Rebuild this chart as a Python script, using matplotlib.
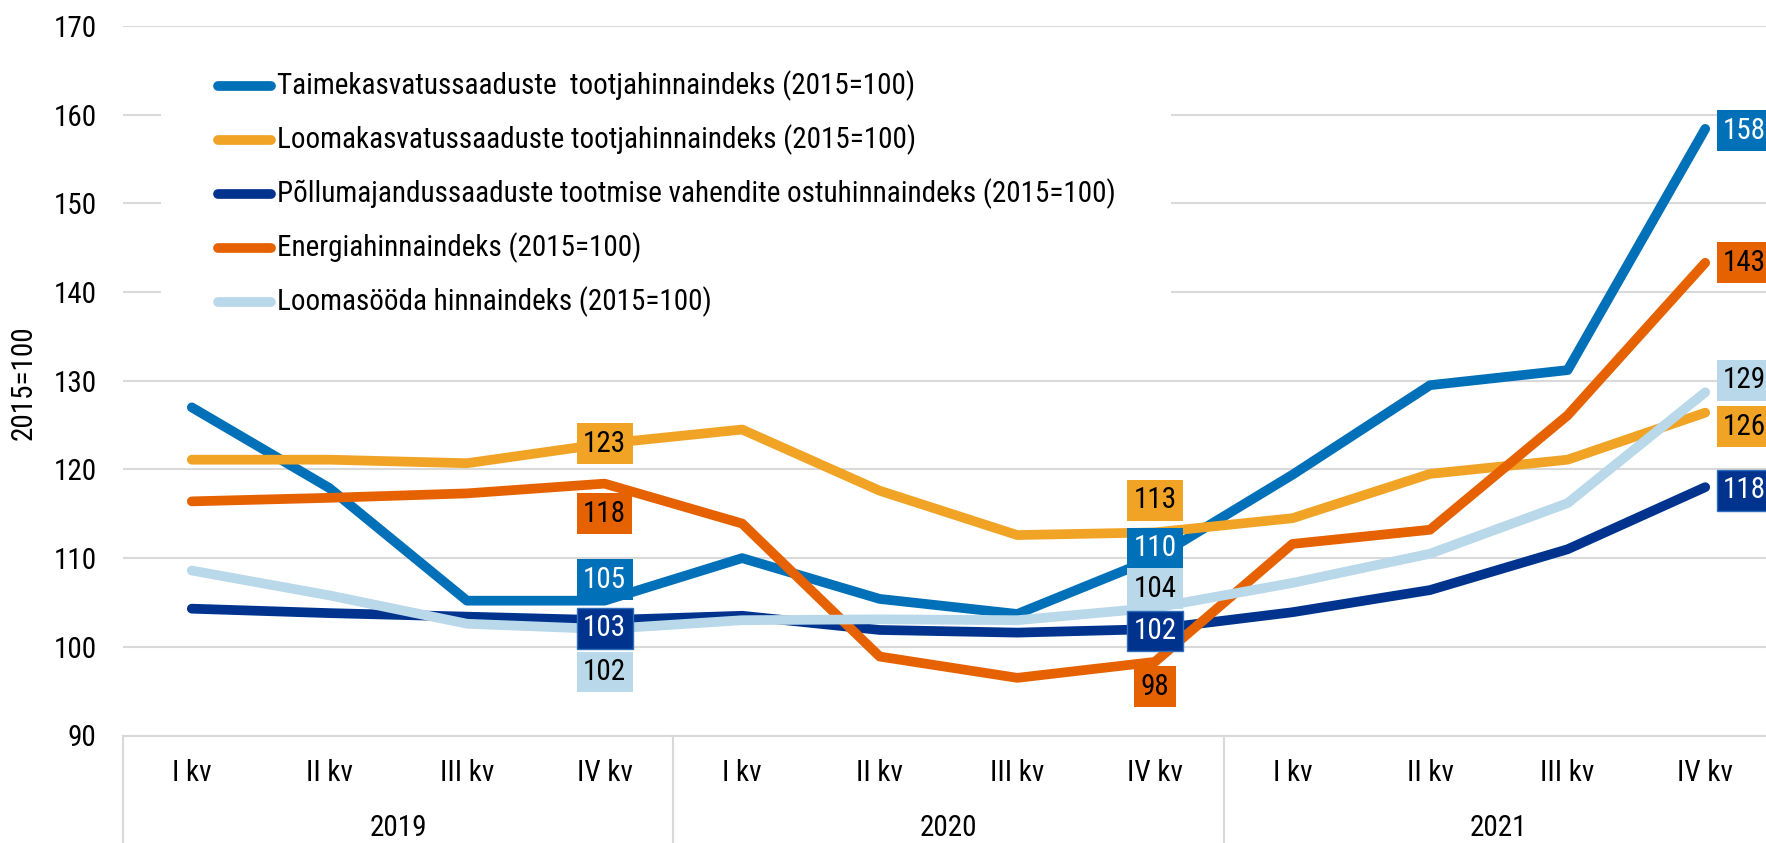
import matplotlib
matplotlib.use("Agg")
import matplotlib.pyplot as plt
from matplotlib.patches import Rectangle

plt.rcParams['font.family'] = ['Roboto Condensed', 'Liberation Sans Narrow', 'Roboto', 'DejaVu Sans']
plt.rcParams['font.size'] = 21

# ---------------------------------------
# Data
# ---------------------------------------
quarters = ["I kv", "II kv", "III kv", "IV kv"] * 3
years = ["2019", "2020", "2021"]

taime = [127.0, 117.9, 105.2, 105.2, 110.0, 105.4, 103.7, 110.0, 119.4, 129.5, 131.2, 158.4]
looma = [121.1, 121.1, 120.7, 122.9, 124.5, 117.6, 112.6, 112.9, 114.5, 119.5, 121.1, 126.4]
pollu = [104.3, 103.8, 103.4, 103.0, 103.5, 101.9, 101.6, 102.0, 103.9, 106.4, 111.0, 118.0]
energia = [116.4, 116.8, 117.3, 118.4, 113.9, 98.9, 96.5, 98.3, 111.6, 113.2, 126.1, 143.3]
sooda = [108.6, 105.8, 102.6, 102.0, 103.0, 103.1, 103.0, 104.4, 107.2, 110.5, 116.2, 128.7]

names = [
    "Taimekasvatussaaduste  tootjahinnaindeks (2015=100)",
    "Loomakasvatussaaduste tootjahinnaindeks (2015=100)",
    "Põllumajandussaaduste tootmise vahendite ostuhinnaindeks (2015=100)",
    "Energiahinnaindeks (2015=100)",
    "Loomasööda hinnaindeks (2015=100)",
]
values = [taime, looma, pollu, energia, sooda]
colors = ["#0070B8", "#F0A324", "#00338D", "#E66100", "#B9D8EA"]
text_colors = ["white", "black", "white", "black", "black"]

# value boxes: point index -> (dx, dy) pixel offsets, per series
label_offsets = [
    {3: (0, 21), 7: (0, 10), 11: (18, -2)},
    {3: (0, 0), 7: (0, 32), 11: (18, -14)},
    {3: (0, -8), 7: (0, -2), 11: (18, -3)},
    {3: (0, -30), 7: (0, -25), 11: (18, 0)},
    {3: (0, -43), 7: (0, 19), 11: (18, 12)},
]

W_PX, H_PX = 1766, 843


def fx(px):
    return px / W_PX


def fy(py):
    return 1 - py / H_PX


# ---------------------------------------
# Figure setup
# ---------------------------------------
fig = plt.figure(figsize=(W_PX / 100, H_PX / 100), dpi=100)
ax = fig.add_axes([fx(123), fy(735.5), fx(1651), (735.5 - 26) / H_PX])

x = list(range(len(quarters)))
for k, (vals, col) in enumerate(zip(values, colors)):
    ax.plot(x, vals, color=col, lw=7, solid_capstyle="round", zorder=3 + k)

for k, (vals, col, tcol) in enumerate(zip(values, colors, text_colors)):
    for idx, (dx, dy) in label_offsets[k].items():
        ax.annotate(f"{round(vals[idx])}", (idx, vals[idx]), xytext=(dx, dy),
                    textcoords="offset pixels", ha="left" if idx == 11 else "center",
                    va="center", color=tcol, fontsize=21, zorder=12,
                    bbox=dict(boxstyle="square,pad=0.22", fc=col,
                              ec="#2F6EBA" if k == 2 else "none", lw=1))

ax.set_xlim(-0.5, 11.5)
ax.set_ylim(90, 170)
ax.set_yticks(range(90, 171, 10))
ax.set_xticks(x)
ax.set_xticklabels(quarters)
ax.tick_params(axis="both", length=0, colors="#000000")
ax.tick_params(axis="y", pad=19)
ax.tick_params(axis="x", pad=17)
ax.grid(axis="y", color="#D9D9D9", lw=1.5)
ax.set_axisbelow(True)
for s in ["top", "right", "left"]:
    ax.spines[s].set_visible(False)
ax.spines["bottom"].set_color("#D9D9D9")
ax.spines["bottom"].set_linewidth(1.5)

# year groups
trans = ax.get_xaxis_transform()
for xb in [-0.5, 3.5, 7.5, 11.5]:
    ax.plot([xb, xb], [0, -0.16], transform=trans, clip_on=False,
            color="#D9D9D9", lw=1.5)
for k, yr in enumerate(years):
    ax.text(4 * k + 1.5, -0.131, yr, transform=trans, ha="center", va="center")

fig.text(fx(24), fy(383), "2015=100", rotation=90, ha="center", va="center")

# legend (white box over the gridlines)
fig.patches.append(Rectangle((fx(161), fy(340)), fx(1171 - 161), (340 - 45) / H_PX,
                             transform=fig.transFigure, fc="white", ec="none", zorder=5))
for k, (name, col) in enumerate(zip(names, colors)):
    yy = fy(85.6 + 54 * k)
    fig.add_artist(plt.Line2D([fx(218), fx(271)], [yy, yy], color=col, lw=7,
                              solid_capstyle="round", zorder=6))
    fig.text(fx(277), yy, name, ha="left", va="center", zorder=7)

plt.savefig("out.png", dpi=100)
